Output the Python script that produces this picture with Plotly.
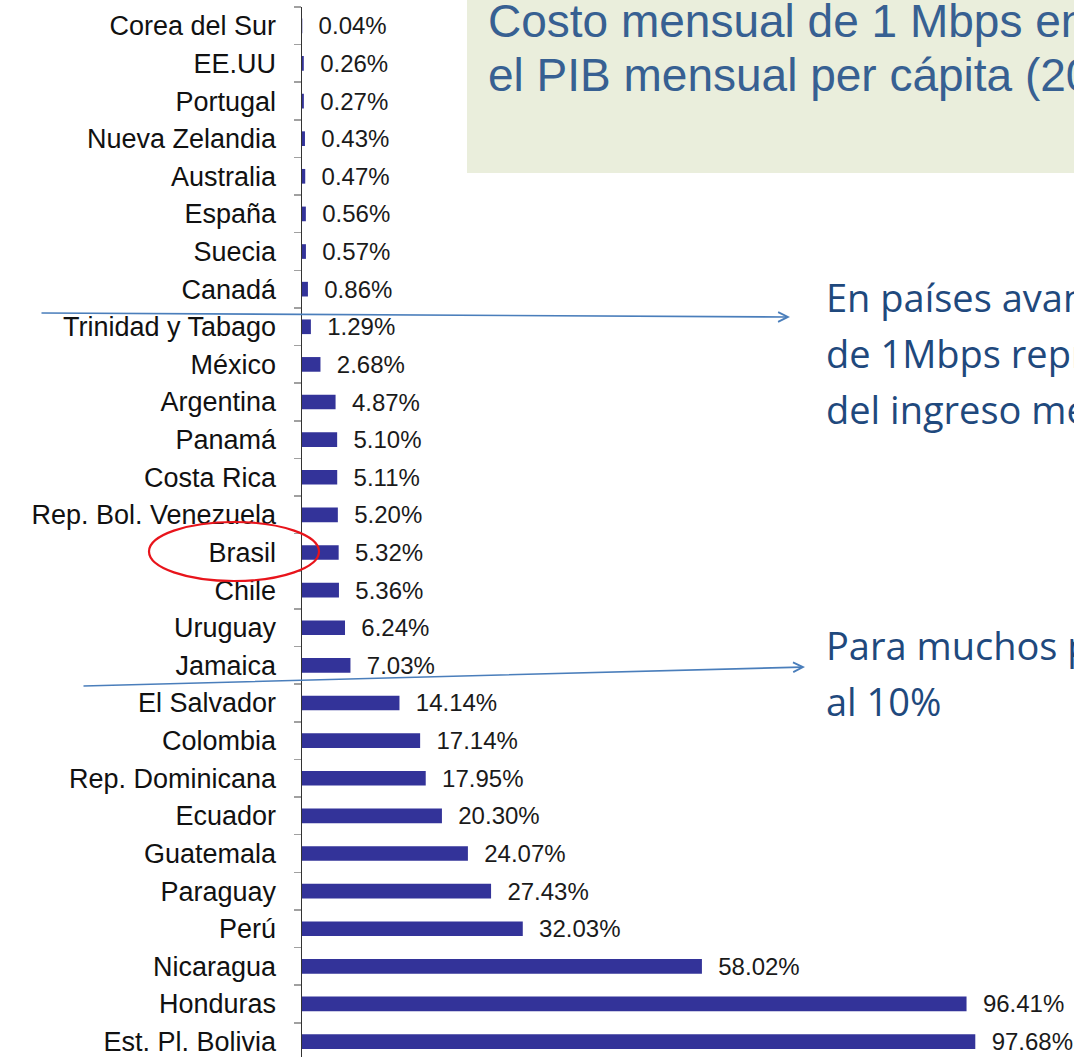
import plotly.graph_objects as go

countries = ["Corea del Sur", "EE.UU", "Portugal", "Nueva Zelandia", "Australia", "España",
             "Suecia", "Canadá", "Trinidad y Tabago", "México", "Argentina", "Panamá",
             "Costa Rica", "Rep. Bol. Venezuela", "Brasil", "Chile", "Uruguay", "Jamaica",
             "El Salvador", "Colombia", "Rep. Dominicana", "Ecuador", "Guatemala", "Paraguay",
             "Perú", "Nicaragua", "Honduras", "Est. Pl. Bolivia"]
values = [0.04, 0.26, 0.27, 0.43, 0.47, 0.56, 0.57, 0.86, 1.29, 2.68, 4.87, 5.10, 5.11,
          5.20, 5.32, 5.36, 6.24, 7.03, 14.14, 17.14, 17.95, 20.30, 24.07, 27.43, 32.03,
          58.02, 96.41, 97.68]

title_lines = ["Costo mensual de 1 Mbps en relación con", "el PIB mensual per cápita (2010)"]
note1_lines = ["En países avanzados el costo", "de 1Mbps representa menos del 1%", "del ingreso mensual"]
note2_lines = ["Para muchos países supera", "al 10%"]

W, H = 1074, 1057
ML, MT, MB, MR = 302, 7, 0, 0
PW, PH = W - ML - MR, H - MT - MB


def px(x):
    return (x - ML) / PW


def py(y):
    return (H - MB - y) / PH


fig = go.Figure()
fig.add_trace(go.Bar(
    y=countries, x=values, orientation="h",
    marker=dict(color="#333399", line=dict(width=0)),
    width=0.39,
    texttemplate="\u00a0\u00a0%{x:.2f}%",
    textposition="outside",
    constraintext="none",
    cliponaxis=False,
    textfont=dict(family="Liberation Sans, Arial", size=24, color="#1a1a1a"),
    hoverinfo="skip",
))

n = len(countries)

fig.update_layout(
    width=W, height=H,
    margin=dict(l=ML, r=MR, t=MT, b=MB, pad=0),
    paper_bgcolor="white", plot_bgcolor="white",
    showlegend=False,
    xaxis=dict(range=[0, 112], visible=False, showgrid=False, zeroline=False),
    yaxis=dict(
        categoryorder="array", categoryarray=countries,
        range=[n - 1 + 0.41, -0.5],
        showline=True, linecolor="#333333", linewidth=1.5,
        ticks="outside", ticklen=7, tickwidth=1.5, tickcolor="#a0a0a0",
        tickson="boundaries",
        ticklabelstandoff=19,
        tickfont=dict(family="Liberation Sans, Arial", size=27, color="#111111"),
        showgrid=False, zeroline=False,
    ),
)

# Title box
fig.add_shape(type="rect", xref="paper", yref="paper",
              x0=px(467), x1=px(1090), y0=py(173), y1=py(-10),
              fillcolor="#EAEEDC", line=dict(width=0), layer="above")
for i, t in enumerate(title_lines):
    fig.add_annotation(xref="paper", yref="paper", x=px(486), y=py(21 + 54 * i),
                       xanchor="left", yanchor="middle", showarrow=False, text=t,
                       font=dict(family="Liberation Sans, Arial", size=46, color="#376092"))

# Notes
for i, t in enumerate(note1_lines):
    fig.add_annotation(xref="paper", yref="paper", x=px(824), y=py(297 + 56 * i),
                       xanchor="left", yanchor="middle", showarrow=False, text=t,
                       font=dict(family="Open Sans", size=38, color="#1F497D"))
for i, t in enumerate(note2_lines):
    fig.add_annotation(xref="paper", yref="paper", x=px(824), y=py(645 + 56 * i),
                       xanchor="left", yanchor="middle", showarrow=False, text=t,
                       font=dict(family="Open Sans", size=38, color="#1F497D"))

# Arrows
for (x0, y0, x1, y1) in [(40, 313, 790, 317), (82, 686, 805, 667)]:
    fig.add_annotation(xref="paper", yref="paper", x=px(x1), y=py(y1),
                       ax=x0 - x1, ay=y0 - y1, axref="pixel", ayref="pixel",
                       text="", showarrow=True, arrowhead=5, arrowsize=1.2,
                       arrowwidth=1.6, arrowcolor="#4A7EBB", standoff=0)

# Red ellipse around Brasil
fig.add_shape(type="circle", xref="paper", yref="paper",
              x0=px(149), x1=px(319), y0=py(581), y1=py(522),
              line=dict(color="#E8141B", width=2.2), fillcolor="rgba(0,0,0,0)", layer="above")

fig.write_html("out.html", config={"displayModeBar": False, "staticPlot": True},
               post_script="document.body.style.margin='0';document.body.style.overflow='hidden';")
